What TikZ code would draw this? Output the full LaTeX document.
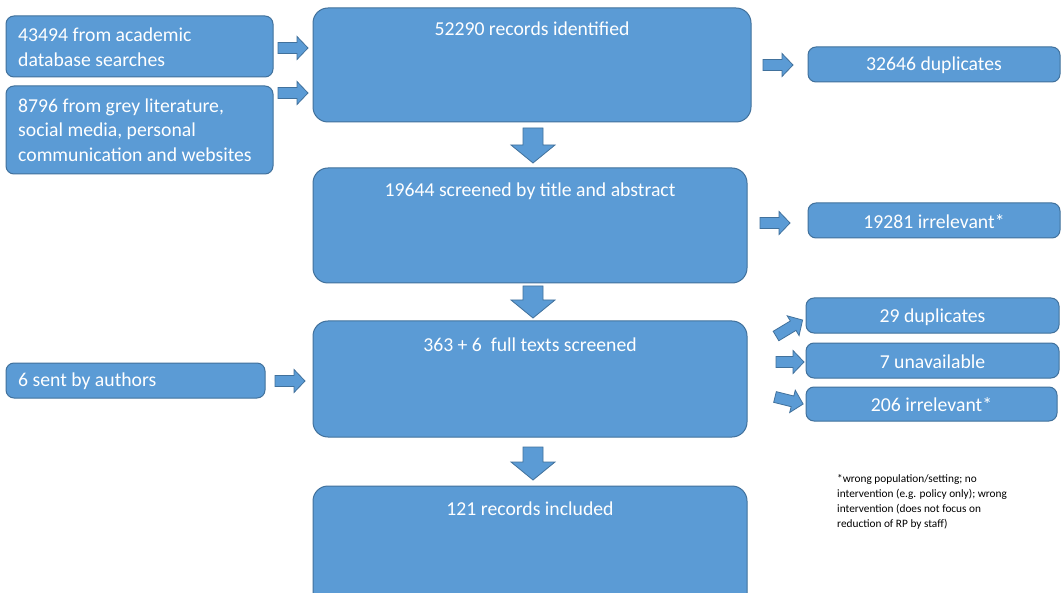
\documentclass[tikz,border=0pt]{standalone}
\usepackage{fontspec}
\setmainfont{Carlito}
\definecolor{boxfill}{HTML}{5B9BD5}
\definecolor{boxline}{HTML}{41719C}
\newcommand\harrow[4]{% x y angle length
  \draw[blockarrow,shift={(#1,#2)},rotate=#3] (0,-5.5) -- (#4-11,-5.5) -- (#4-11,-11.5) -- (#4,0) -- (#4-11,11.5) -- (#4-11,5.5) -- (0,5.5) -- cycle;}
\newcommand\darrow[3]{% x y(top) length
  \draw[blockarrow,shift={(#1,#2)}] (-10,0) -- (-10,#3-18) -- (-22,#3-18) -- (0,#3) -- (22,#3-18) -- (10,#3-18) -- (10,0) -- cycle;}
\begin{document}
\begin{tikzpicture}[x=1pt,y=-1pt,
  blockarrow/.style={fill=boxfill,draw=boxline,line width=0.8pt,line join=miter},
  bigbox/.style={draw=boxline,fill=boxfill,line width=1pt,rounded corners=15pt,inner sep=0pt},
  smallbox/.style={draw=boxline,fill=boxfill,line width=1pt,rounded corners=8pt,inner sep=0pt,minimum height=35pt},
  txt/.style={text=white,font=\fontsize{19.7}{24.5}\selectfont,inner sep=0pt},
  ltxt/.style={txt,align=left,anchor=west},
  note/.style={font=\fontsize{11.3}{15.2}\selectfont,align=left,anchor=north west,inner sep=0pt}]
\clip (0,0) rectangle (1062,593);
\fill[white] (0,0) rectangle (1062,593);
% left boxes
\node[smallbox,minimum width=267pt,minimum height=61pt] (a) at (139.5,46.5) {};
\node[ltxt] at (18,47) {43494 from academic\\database searches};
\node[smallbox,minimum width=267pt,minimum height=88pt] (b) at (139.5,130) {};
\node[ltxt] at (18,130) {8796 from grey literature,\\social media, personal\\communication and websites};
\node[smallbox,minimum width=259pt] (au) at (135.5,380.5) {};
\node[ltxt] at (18,381) {6 sent by authors};
% main boxes
\node[bigbox,minimum width=438pt,minimum height=114pt] (m1) at (532,65) {};
\node[txt] at (532,29) {52290 records identified};
\node[bigbox,minimum width=434pt,minimum height=115pt] (m2) at (530,225.5) {};
\node[txt] at (530,191) {19644 screened by title and abstract};
\node[bigbox,minimum width=434pt,minimum height=116pt] (m3) at (530,379) {};
\node[txt] at (530,345) {363 + 6\ \ full texts screened};
\node[bigbox,minimum width=434pt,minimum height=124pt] (m4) at (530,548) {};
\node[txt] at (530,509) {121 records included};
% right boxes
\node[smallbox,minimum width=252pt] (d1) at (934,64.5) {};
\node[txt] at (934,65.5) {32646 duplicates};
\node[smallbox,minimum width=252pt] (i1) at (934,220.5) {};
\node[txt] at (934,221.5) {19281 irrelevant*};
\node[smallbox,minimum width=253pt] (d2) at (932.5,315.5) {};
\node[txt] at (932.5,317) {29 duplicates};
\node[smallbox,minimum width=253pt] (u) at (932.5,360.5) {};
\node[txt] at (932.5,362) {7 unavailable};
\node[smallbox,minimum width=251pt,minimum height=34pt] (i2) at (931.5,404) {};
\node[txt] at (931.5,405) {206 irrelevant*};
% arrows
\harrow{278}{48}{0}{30}
\harrow{278}{93}{0}{30}
\harrow{763}{65}{0}{30}
\harrow{760}{223}{0}{30}
\harrow{275}{381}{0}{30}
\harrow{776}{336}{31}{31}
\harrow{776}{362}{0}{28}
\harrow{775}{397}{-14}{29}
\darrow{533}{128}{35}
\darrow{533}{286}{32}
\darrow{533}{447}{33}
% note
\node[note] (n) at (837,474) {*wrong population/setting; no\\intervention (e.g. policy only); wrong\\intervention (does not focus on\\reduction of RP by staff)};
\end{tikzpicture}
\end{document}
